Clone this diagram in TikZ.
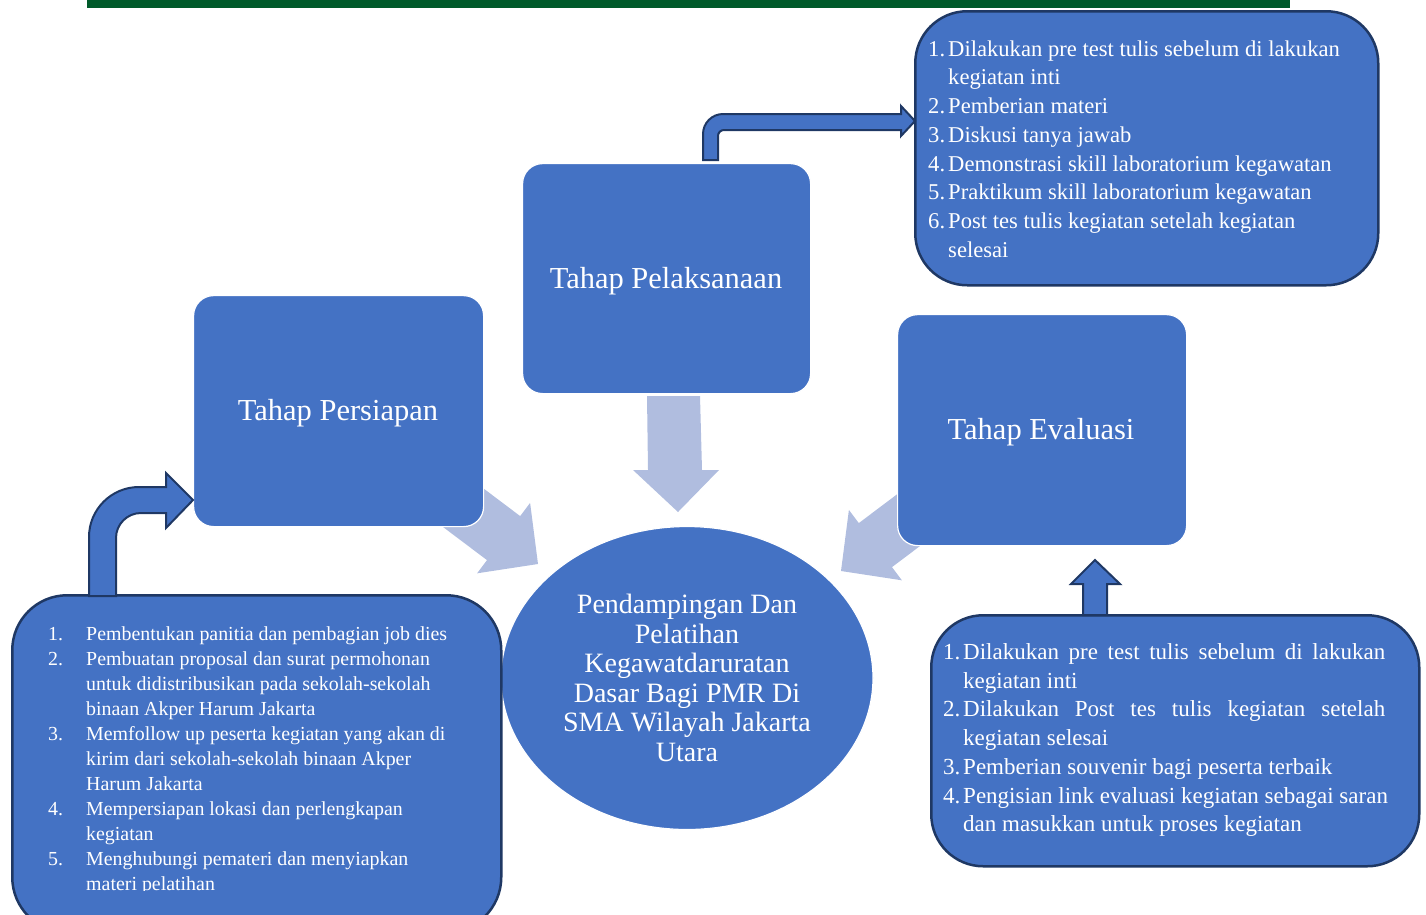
\documentclass[tikz,border=0pt]{standalone}
\usepackage{fontspec}
\setmainfont{Liberation Serif}
\usetikzlibrary{shapes.geometric}
\definecolor{boxblue}{HTML}{4472C4}
\definecolor{navy}{HTML}{1F3864}
\definecolor{lite}{HTML}{B0BDDF}
\definecolor{bargreen}{HTML}{005A2A}
\begin{document}
\begin{tikzpicture}[x=1pt,y=-1pt,
  stagebox/.style={rectangle, fill=boxblue, draw=white, line width=1.2pt, rounded corners=20pt, anchor=north west},
  listbox/.style={rectangle, fill=boxblue, draw=navy, line width=2.5pt, rounded corners=52pt, anchor=north west},
  blockarrow/.style={fill=boxblue, draw=navy, line width=2pt, line join=miter},
  litearrow/.style={fill=lite, draw=none},
  stagetitle/.style={text=white, font=\fontsize{30.5}{35}\selectfont, inner sep=0pt, yshift=-3pt},
  itemA/.style={text=white, anchor=mid west, inner sep=0pt, yshift=-5pt, font=\fontsize{22.6}{27}\selectfont},
  itemB/.style={text=white, anchor=mid west, inner sep=0pt, yshift=-5pt, font=\fontsize{19.9}{24}\selectfont},
  itemC/.style={text=white, anchor=mid west, inner sep=0pt, yshift=-5pt, font=\fontsize{23}{27}\selectfont},
]
\clip (0,0) rectangle (1426,914);
\useasboundingbox (0,0) rectangle (1426,914);

% top green bar
\fill[bargreen] (87,0) rectangle (1290,8);

% light arrows (behind stage boxes)
\fill[litearrow] (424.3,443.9) -- (520.2,516.1) -- (530.1,502.9) -- (538,564) -- (477.1,573.3) -- (487.0,560.1) -- (391.1,487.9) -- cycle;
\fill[litearrow] (954.7,450.9) -- (858.8,523.1) -- (848.9,509.9) -- (841,571) -- (901.9,580.3) -- (892,567.1) -- (987.9,494.9) -- cycle;
\fill[litearrow] (647,396) -- (700,396) -- (702,470) -- (719,470) -- (678,512) -- (633,470) -- (648,470) -- cycle;

% stage boxes
\node[stagebox, minimum width=288pt, minimum height=230pt] (pel) at (522,163) {};
\node[stagebox, minimum width=290pt, minimum height=231pt] (per) at (193,295) {};
\node[stagebox, minimum width=289pt, minimum height=231pt] (eva) at (897,314) {};
\node[stagetitle] (pelT) at (666,278) {Tahap Pelaksanaan};
\node[stagetitle] (perT) at (338,410) {Tahap Persiapan};
\node[stagetitle] (evaT) at (1041,429) {Tahap Evaluasi};

% central ellipse
\node[ellipse, fill=boxblue, draw=white, line width=1.2pt, minimum width=372pt, minimum height=303pt,
      text=white, align=center, font=\fontsize{28}{29.6}\selectfont] (goal) at (687,678)
  {Pendampingan Dan\\Pelatihan\\Kegawatdaruratan\\Dasar Bagi PMR Di\\SMA Wilayah Jakarta\\Utara};

% list boxes
\node[listbox, minimum width=463pt, minimum height=274pt] (plan) at (914,10) {};
\node[listbox, minimum width=489pt, minimum height=337pt, rounded corners=55pt] (prep) at (11,594) {};
\node[listbox, minimum width=488pt, minimum height=251pt] (evl) at (930,614) {};

% bent arrow: persiapan
\draw[blockarrow] (89,596) -- (89,537) .. controls (89,509.4) and (111.4,487) .. (139,487)
  -- (166,487) -- (166,473) -- (193,500) -- (166,528) -- (166,513) -- (141,513)
  .. controls (127.2,513) and (116,524.2) .. (116,538) -- (116,596) -- cycle;
% bent arrow: pelaksanaan
\draw[blockarrow] (703,160) -- (703,134) .. controls (703,123) and (712,114) .. (723,114)
  -- (901,114) -- (901,106) -- (915,121) -- (901,136) -- (901,130) -- (724,130)
  .. controls (720.7,130) and (718,132.7) .. (718,136) -- (718,160) -- cycle;
% up arrow: evaluasi
\draw[blockarrow] (1083,615) -- (1083,584) -- (1071,584) -- (1095,560) -- (1120,584) -- (1107,584) -- (1107,615) -- cycle;

% top-right list
\foreach \yy/\nn [count=\k] in {49/1., 106/2., 135/3., 164/4., 192/5., 221/6.}
  \node[itemA] (planN\k) at (928,\yy) {\nn};
\foreach \yy/\tt [count=\k] in {49/{Dilakukan pre test tulis sebelum di lakukan}, 77/{kegiatan inti},
   106/{Pemberian materi}, 135/{Diskusi tanya jawab}, 164/{Demonstrasi skill laboratorium kegawatan},
   192/{Praktikum skill laboratorium kegawatan}, 221/{Post tes tulis kegiatan setelah kegiatan}, 250/{selesai}}
  \node[itemA] (planT\k) at (948,\yy) {\tt};

% bottom-left list
\begin{scope}
\clip (0,0) rectangle (1426,890);
\foreach \yy/\nn [count=\k] in {633/1., 658/2., 733/3., 808/4., 858/5.}
  \node[itemB] (prepN\k) at (48,\yy) {\nn};
\foreach \yy/\tt [count=\k] in {633/{Pembentukan panitia dan pembagian job dies},
   658/{Pembuatan proposal dan surat permohonan}, 683/{untuk didistribusikan pada sekolah-sekolah},
   708/{binaan Akper Harum Jakarta}, 733/{Memfollow up peserta kegiatan yang akan di},
   758/{kirim dari sekolah-sekolah binaan Akper}, 783/{Harum Jakarta},
   808/{Mempersiapan lokasi dan perlengkapan}, 833/{kegiatan},
   858/{Menghubungi pemateri dan menyiapkan}, 883/{materi pelatihan}}
  \node[itemB] (prepT\k) at (86,\yy) {\tt};
\end{scope}

% bottom-right list
\foreach \yy/\nn [count=\k] in {652/1., 709/2., 767/3., 796/4.}
  \node[itemC] (evlN\k) at (943,\yy) {\nn};
\node[itemC] (evlT1) at (963,652) {\makebox[422pt][s]{Dilakukan pre test tulis sebelum di lakukan}};
\node[itemC] (evlT2) at (963,681) {kegiatan inti};
\node[itemC] (evlT3) at (963,709) {\makebox[422pt][s]{Dilakukan Post tes tulis kegiatan setelah}};
\node[itemC] (evlT4) at (963,738) {kegiatan selesai};
\node[itemC] (evlT5) at (963,767) {Pemberian souvenir bagi peserta terbaik};
\node[itemC] (evlT6) at (963,796) {Pengisian link evaluasi kegiatan sebagai saran};
\node[itemC] (evlT7) at (963,824) {dan masukkan untuk proses kegiatan};
\end{tikzpicture}
\end{document}
